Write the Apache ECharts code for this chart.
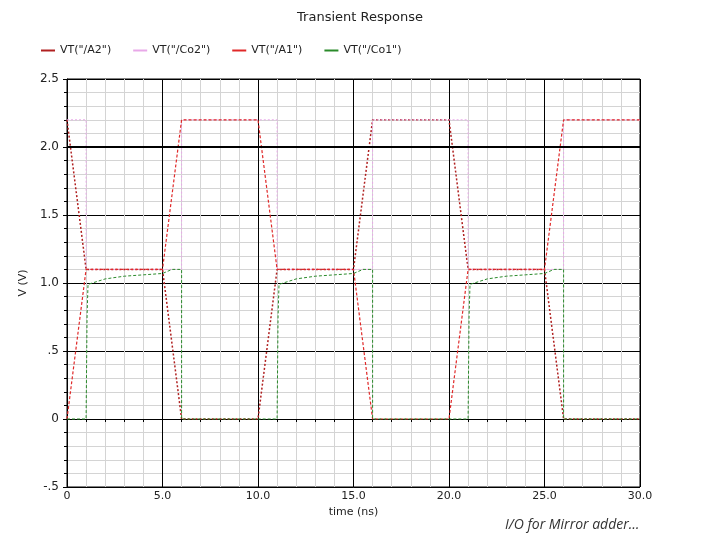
<!DOCTYPE html>
<html><head><meta charset="utf-8">
<script src="https://cdn.jsdelivr.net/npm/echarts@6/dist/echarts.min.js"></script>
<style>html,body{margin:0;padding:0;background:#fff}#c{width:720px;height:540px}</style>
</head><body><div id="c"></div>
<script>
const xTicks = ['0','5.0','10.0','15.0','20.0','25.0','30.0'];
const yTicks = {'-0.5':'-.5','0':'0','0.5':'.5','1':'1.0','1.5':'1.5','2':'2.0','2.5':'2.5'};
const A2 = [[0,2.2],[1,1.1],[5,1.1],[6,0],[10,0],[11,1.1],[15,1.1],[16,2.2],[20,2.2],[21,1.1],[25,1.1],[26,0],[30,0]];
const A1 = [[0,0],[1,1.1],[5,1.1],[6,2.2],[10,2.2],[11,1.1],[15,1.1],[16,0],[20,0],[21,1.1],[25,1.1],[26,2.2],[30,2.2]];
const Co2 = [[0,2.2],[1,2.2],[1,1.1],[6,1.1],[6,2.2],[11,2.2],[11,1.1],[16,1.1],[16,2.2],[21,2.2],[21,1.1],[26,1.1],[26,2.2],[30,2.2]];
const Co1 = [[0,0],[1,0],[1.05,0.75],[1.1,0.99],[2,1.03],[3,1.05],[4,1.06],[5,1.07],[5.5,1.1],[6,1.1],[6,0],[11,0],[11.05,0.75],[11.1,0.99],[12,1.03],[13,1.05],[14,1.06],[15,1.07],[15.5,1.1],[16,1.1],[16,0],[21,0],[21.05,0.75],[21.1,0.99],[22,1.03],[23,1.05],[24,1.06],[25,1.07],[25.5,1.1],[26,1.1],[26,0],[30,0]];
const font = 'DejaVu Sans';
const chart = echarts.init(document.getElementById('c'));
const mk = (name, data, color, type, w) => ({name, type:'line', data, symbol:'none', animation:false,
  lineStyle:{color, width:w, type}, itemStyle:{color}});
chart.setOption({
  animation:false,
  title:{text:'Transient Response', left:'center', top:6, textStyle:{fontFamily:font, fontSize:13, fontWeight:'normal', color:'#222'}},
  legend:{left:36, top:40, itemWidth:14, itemHeight:2, itemGap:22, icon:'rect',
    textStyle:{fontFamily:font, fontSize:11, color:'#222'}},
  graphic:[{type:'text', left:505, top:518, style:{text:'I/O for Mirror adder…', font:'italic 14px "Open Sans"', fill:'#333'}}],
  grid:{left:67, right:80, top:79, bottom:53, show:true, borderColor:'#000', borderWidth:1},
  xAxis:{type:'value', min:0, max:30, interval:5, name:'time (ns)', nameLocation:'middle', nameGap:14,
    nameTextStyle:{fontFamily:font, fontSize:11, color:'#222'},
    axisLine:{lineStyle:{color:'#000'}}, axisTick:{show:true, length:4, lineStyle:{color:'#000'}},
    minorTick:{show:true, splitNumber:5, length:3, lineStyle:{color:'#000'}},
    axisLabel:{fontFamily:font, fontSize:11, color:'#222', margin:4, formatter:v=>xTicks[v/5]},
    splitLine:{show:true, lineStyle:{color:'#000', width:1}},
    minorSplitLine:{show:true, lineStyle:{color:'#d4d4d4', width:1}}},
  yAxis:{type:'value', min:-0.5, max:2.5, interval:0.5, name:'V (V)', nameLocation:'middle', nameGap:32,
    nameTextStyle:{fontFamily:font, fontSize:11, color:'#222'},
    axisLine:{show:true, lineStyle:{color:'#000'}}, axisTick:{show:true, length:4, lineStyle:{color:'#000'}},
    minorTick:{show:true, splitNumber:5, length:3, lineStyle:{color:'#000'}},
    axisLabel:{fontFamily:font, fontSize:12, color:'#222', formatter:v=>yTicks[String(v)]},
    splitLine:{show:true, lineStyle:{color:'#000', width:1}},
    minorSplitLine:{show:true, lineStyle:{color:'#d4d4d4', width:1}}},
  series:[
    Object.assign(mk('VT("/A2")', A2, '#b02020', [2,2], 1.5), {markLine:{silent:true, symbol:'none', label:{show:false},
      lineStyle:{color:'#000', width:2, type:'solid'}, data:[{yAxis:2}]}}),
    mk('VT("/Co2")', Co2, '#e8a8e8', [2,2], 1),
    mk('VT("/A1")', A1, '#e02828', [3,2], 1.2),
    mk('VT("/Co1")', Co1, '#2a8a2a', [3,2], 1)
  ]
});
</script></body></html>
